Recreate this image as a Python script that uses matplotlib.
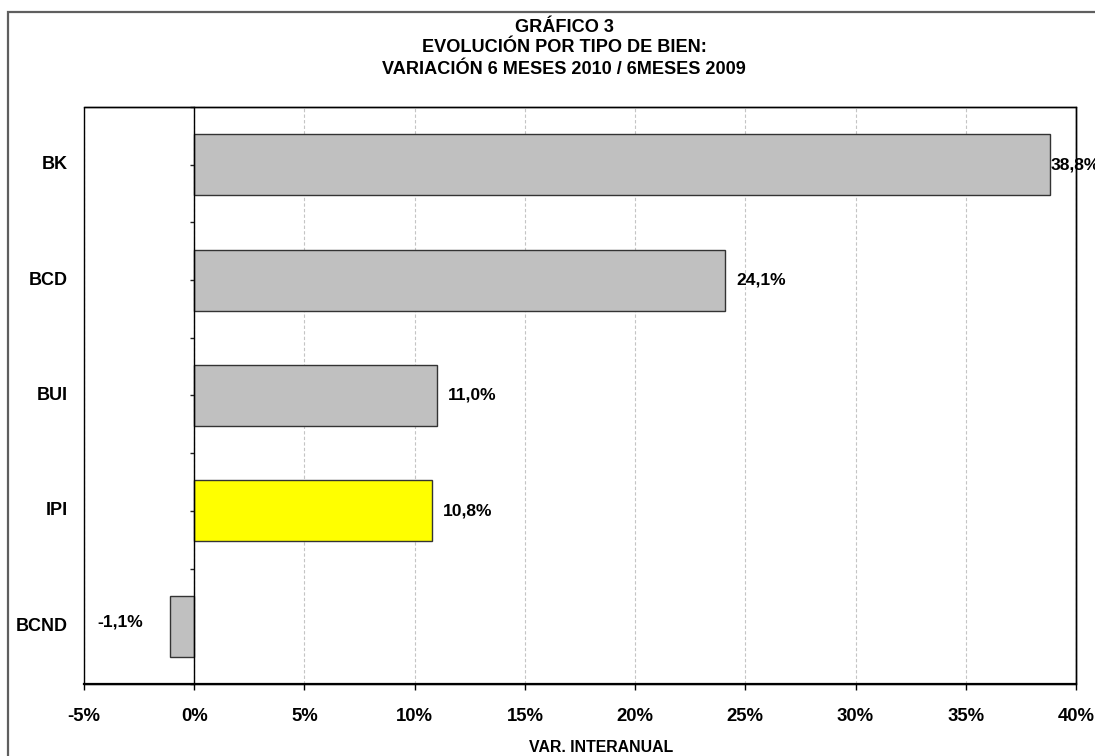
import matplotlib
matplotlib.use('Agg')
import matplotlib.pyplot as plt
from matplotlib.patches import Rectangle
from matplotlib.ticker import FuncFormatter

# ---- data ----
categories = ['BK', 'BCD', 'BUI', 'IPI', 'BCND']
values = [38.8, 24.1, 11.0, 10.8, -1.1]
highlight = 'IPI'
x_ticks = [-5, 0, 5, 10, 15, 20, 25, 30, 35, 40]
title_lines = ['GRÁFICO 3', 'EVOLUCIÓN POR TIPO DE BIEN:',
               'VARIACIÓN 6 MESES 2010 / 6MESES 2009']
x_label = 'VAR. INTERANUAL'

plt.rcParams['font.family'] = ['Liberation Sans', 'DejaVu Sans']
plt.rcParams['font.weight'] = 'bold'

W, H = 1095, 756
fig = plt.figure(figsize=(W / 100, H / 100), dpi=100)
fig.patch.set_facecolor('white')

# outer chart border
fig.patches.append(Rectangle((8 / W, -0.2), 1.5, 1 - 12 / H + 0.2,
                             transform=fig.transFigure, fill=False,
                             edgecolor='#5f5f5f', linewidth=1.6))

L, R, T, B = 84, 1076, 107, 684
ax = fig.add_axes([L / W, 1 - B / H, (R - L) / W, (B - T) / H])

ypos = list(range(len(categories)))
colors = ['#FFFF00' if c == highlight else '#C0C0C0' for c in categories]
ax.barh(ypos, values, height=0.53, color=colors, edgecolor='#333333',
        linewidth=1.0, zorder=3)

ax.set_xlim(x_ticks[0], x_ticks[-1])
ax.set_ylim(len(categories) - 0.5, -0.5)

# grid
ax.set_xticks(x_ticks)
ax.xaxis.set_major_formatter(FuncFormatter(lambda v, p: f'{int(round(v))}%'))
ax.grid(axis='x', color='#C4C4C4', linestyle=(0, (3, 2)), linewidth=0.8, zorder=1)
ax.set_axisbelow(True)

# y axis at zero with ticks at centres and boundaries
ax.spines['left'].set_position(('data', 0))
ax.spines['left'].set_linewidth(1.0)
ax.spines['left'].set_zorder(4)
yt = [i * 0.5 - 0.5 for i in range(2 * len(categories) + 1)]
ax.set_yticks(yt)
ax.set_yticklabels([''] * len(yt))
ax.tick_params(axis='y', length=3, width=1, direction='out', color='#222222')

for s in ['top', 'right']:
    ax.spines[s].set_linewidth(1.0)
ax.spines['bottom'].set_linewidth(1.6)
ax.add_patch(Rectangle((0, 0), 1, 1, transform=ax.transAxes, fill=False,
                       edgecolor='black', linewidth=1.0, clip_on=False, zorder=5))

ax.tick_params(axis='x', length=4, width=1, direction='out', pad=13,
               labelsize=13.3)
for lbl in ax.get_xticklabels():
    lbl.set_fontweight('bold')

# category labels, outside plot frame
ytrans = ax.get_yaxis_transform()
for i, c in enumerate(categories):
    ax.text(-16 / (R - L), i, c, transform=ytrans, ha='right', va='center',
            fontsize=13, fontweight='bold', clip_on=False)

# value labels
for i, v in enumerate(values):
    txt = f'{v:.1f}'.replace('.', ',') + '%'
    if v >= 0:
        off = 1 if v > x_ticks[-1] - 3 else 11
        ax.annotate(txt, xy=(v, i), xytext=(off, 0), textcoords='offset pixels',
                    ha='left', va='center', fontsize=12.6, fontweight='bold',
                    annotation_clip=False, zorder=6)
    else:
        ax.annotate(txt, xy=(v, i), xytext=(-27, 4), textcoords='offset pixels',
                    ha='right', va='center', fontsize=12.6, fontweight='bold',
                    annotation_clip=False, zorder=6)

# title
for k, line in enumerate(title_lines):
    fig.text(564 / W, 1 - (27 + 21 * k) / H, line, ha='center', va='center',
             fontsize=13.1, fontweight='bold')

fig.text(601 / W, 1 - 747 / H, x_label, ha='center', va='center',
         fontsize=11.4, fontweight='bold')

fig.savefig('out.png', dpi=100)
